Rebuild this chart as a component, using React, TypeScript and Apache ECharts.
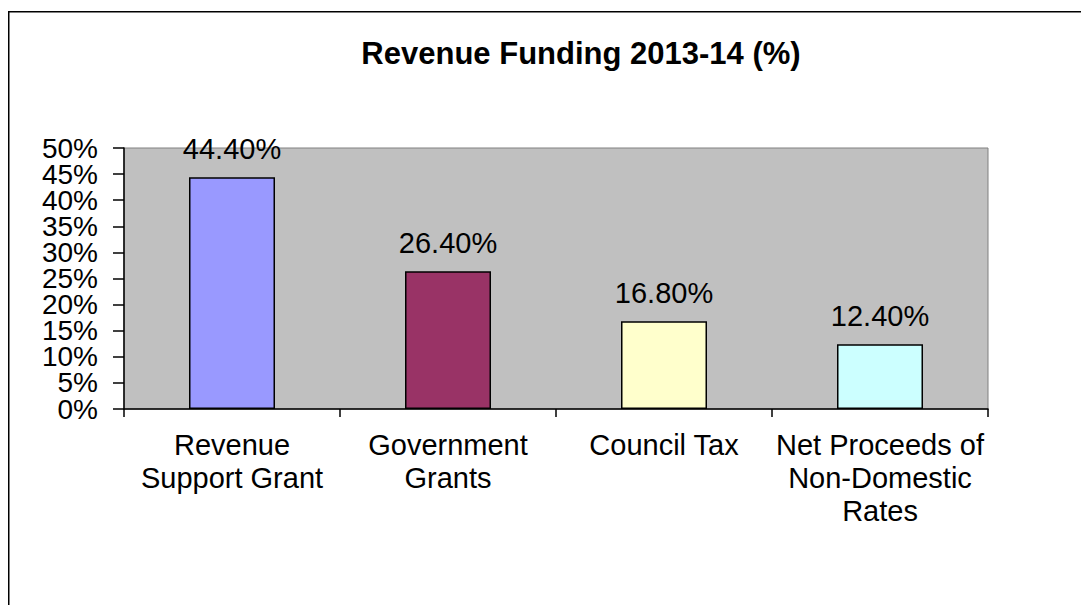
import React, { useEffect, useRef } from "react";
import * as echarts from "echarts";

const categories = [
  "Revenue\nSupport Grant",
  "Government\nGrants",
  "Council Tax",
  "Net Proceeds of\nNon-Domestic\nRates",
];
const values = [44.4, 26.4, 16.8, 12.4];
const barColors = ["#9999FF", "#993366", "#FFFFCC", "#CCFFFF"];
const titleText = "Revenue Funding 2013-14 (%)";
const yMin = 0;
const yMax = 50;
const yStep = 5;

const FONT = 'Arial, "Liberation Sans", sans-serif';

export default function App() {
  const ref = useRef<HTMLDivElement>(null);
  useEffect(() => {
    if (!ref.current) return;
    const chart = echarts.init(ref.current, null, { renderer: "svg" });
    const richA = {
      a: {
        fontFamily: FONT,
        fontSize: 28,
        height: 20,
        lineHeight: 20,
        color: "#000",
      },
    };
    chart.setOption({
      animation: false,
      backgroundColor: "#ffffff",
      title: {
        text: titleText,
        left: 568,
        top: 25,
        textAlign: "center",
        textStyle: { fontFamily: FONT, fontSize: 31, fontWeight: "bold", color: "#000" },
      },
      graphic: [
        {
          type: "rect",
          shape: { x: 0.75, y: 3.75, width: 1300, height: 900 },
          style: { fill: "none", stroke: "#000", lineWidth: 1.5 },
          silent: true,
        },
      ],
      grid: {
        left: 116,
        right: 101,
        top: 140,
        bottom: 196,
        show: true,
        backgroundColor: "#C0C0C0",
        borderColor: "#808080",
        borderWidth: 1,
      },
      xAxis: {
        type: "category",
        data: categories,
        axisLine: { show: true, lineStyle: { color: "#000", width: 1.5 } },
        axisTick: { show: true, length: 8, lineStyle: { color: "#000", width: 1.5 } },
        axisLabel: {
          fontFamily: FONT,
          fontSize: 29,
          color: "#000",
          lineHeight: 33,
          margin: 19,
          interval: 0,
        },
        splitLine: { show: false },
      },
      yAxis: [
        {
          type: "value",
          min: yMin,
          max: yMax,
          interval: yStep,
          position: "left",
          axisLine: { show: true, lineStyle: { color: "#000", width: 1.5 } },
          axisTick: { show: true, length: 11, lineStyle: { color: "#000", width: 1.5 } },
          axisLabel: {
            formatter: (v: number) => (v === yMin || v === yMax ? "{a|" + v + "%}" : ""),
            margin: 26,
            showMinLabel: true,
            showMaxLabel: true,
            interval: 0,
            rich: richA,
          },
          splitLine: { show: false },
        },
        {
          type: "value",
          min: yMin,
          max: yMax,
          interval: yStep,
          position: "left",
          offset: 0,
          axisLine: { show: false },
          axisTick: { show: false },
          axisLabel: {
            formatter: (v: number) => (v === yMin || v === yMax ? "" : "{a|" + v + "%}"),
            margin: 26,
            showMinLabel: false,
            showMaxLabel: false,
            interval: 0,
            rich: richA,
          },
          splitLine: { show: false },
        },
      ],
      series: [
        {
          type: "bar",
          barWidth: 86,
          yAxisIndex: 0,
          data: values.map((v, i) => ({
            value: v,
            itemStyle: { color: barColors[i], borderColor: "#000", borderWidth: 1.5 },
          })),
          label: {
            show: true,
            position: "top",
            distance: 14,
            fontFamily: FONT,
            fontSize: 29,
            color: "#000",
            formatter: (p: any) => p.value.toFixed(2) + "%",
          },
        },
      ],
    });
    return () => chart.dispose();
  }, []);
  return <div ref={ref} style={{ width: 1081, height: 597 }} />;
}
